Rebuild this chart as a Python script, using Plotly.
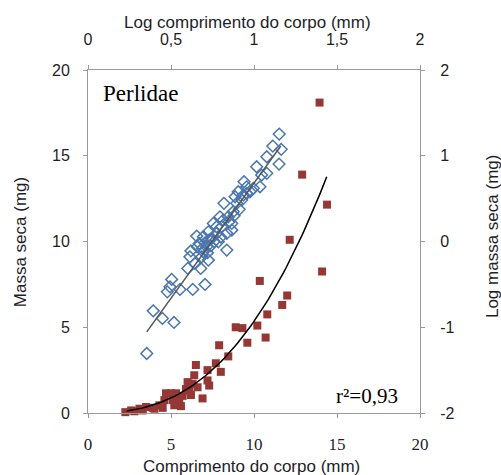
import plotly.graph_objects as go
import numpy as np

# Red squares: body length (mm) vs dry mass (mg)  -> bottom / left axes
length_mm = [2.25, 2.6, 2.8, 3.1, 3.3, 3.5, 3.9, 4.0, 4.3, 4.5,
             4.6, 4.7, 5.0, 5.1, 5.2, 5.3, 5.5, 5.6, 5.7, 5.9,
             6.0, 6.1, 6.2, 6.3, 6.4, 6.5, 6.6, 6.9, 7.2, 7.2,
             7.3, 7.7, 7.9, 8.0, 8.45, 8.9, 9.3, 9.6, 10.2, 10.35,
             10.7, 10.8, 11.7, 12.0, 12.15, 12.9, 13.95, 14.1, 14.4]
mass_mg = [0.05, 0.15, 0.1, 0.25, 0.15, 0.35, 0.3, 0.25, 0.45, 0.3,
           0.75, 1.15, 1.15, 0.75, 0.45, 1.15, 0.75, 0.4, 1.0, 1.4,
           1.8, 1.3, 1.05, 1.7, 2.2, 2.8, 1.5, 0.85, 1.9, 2.5,
           1.6, 2.9, 3.95, 2.4, 3.3, 5.0, 4.95, 4.1, 5.1, 7.7,
           4.4, 5.75, 6.3, 6.85, 10.1, 13.9, 18.1, 8.25, 12.15]

# Blue diamonds: log length vs log mass -> top / right axes
log_length = [0.354, 0.393, 0.448, 0.518, 0.478, 0.504, 0.554, 0.631, 0.705, 0.601,
              0.679, 0.614, 0.620, 0.655, 0.670, 0.715, 0.725, 0.836, 0.695, 0.745,
              0.775, 0.805, 0.819, 0.795, 0.845, 0.866, 0.875, 0.911, 0.905, 0.940,
              0.956, 0.996, 1.036, 1.016, 1.046, 1.077, 1.077, 1.113, 1.152, 1.164,
              1.151, 0.926, 0.886, 0.755, 0.785, 0.705, 0.836, 0.866, 0.936, 0.976,
              0.695, 0.658, 0.645, 0.494, 0.725, 0.815, 0.896, 0.956, 0.775, 0.685,
              0.740, 0.760, 0.800, 0.730, 0.690, 0.850, 0.880, 0.720]
log_mass = [-1.306, -0.809, -0.897, -0.944, -0.587, -0.442, -0.559, -0.559, -0.501, -0.314,
            -0.314, -0.179, -0.109, 0.063, -0.022, -0.062, -0.217, -0.100, -0.120, 0.036,
            0.095, 0.172, 0.445, 0.288, 0.288, 0.211, 0.347, 0.375, 0.580, 0.697,
            0.638, 0.620, 0.638, 0.872, 0.775, 0.795, 0.988, 1.113, 1.253, 1.075,
            0.903, 0.483, 0.522, 0.211, -0.004, -0.015, 0.095, 0.133, 0.541, 0.580,
            0.055, -0.062, -0.256, -0.529, 0.113, 0.250, 0.445, 0.561, 0.172, -0.179,
            -0.050, 0.000, 0.050, 0.020, -0.080, 0.230, 0.300, -0.130]

# Fitted models
lin_intercept, lin_slope = -2.004, 2.685
lin_x_range = [0.354, 1.161]
pow_a, pow_b = 0.01324, 2.606
pow_x_range = [2.33, 14.38]

bottom_ticks = [0, 5, 10, 15, 20]
left_ticks = [0, 5, 10, 15, 20]
top_tickvals = [0, 0.5, 1, 1.5, 2]
top_ticktext = ["0", "0,5", "1", "1,5", "2"]
right_tickvals = [-2, -1, 0, 1, 2]
right_ticktext = ["-2", "-1", "0", "1", "2"]

SANS = "Liberation Sans, Arial, sans-serif"
SERIF = "Liberation Serif, Times New Roman, serif"
TXT = "#1e1e28"
AX = "#9a9a9a"

fig = go.Figure()

fig.add_trace(go.Scatter(
    x=length_mm, y=mass_mg, mode="markers", xaxis="x", yaxis="y",
    marker=dict(symbol="square", size=8, color="#953735"),
    cliponaxis=False, showlegend=False))

fig.add_trace(go.Scatter(
    x=log_length, y=log_mass, mode="markers", xaxis="x2", yaxis="y2",
    marker=dict(symbol="diamond-open", size=9, color="#4a76ad", line=dict(width=1.5, color="#4a76ad")),
    cliponaxis=False, showlegend=False))

lx = np.array(lin_x_range)
fig.add_trace(go.Scatter(
    x=lx, y=lin_intercept + lin_slope * lx, mode="lines", xaxis="x2", yaxis="y2",
    line=dict(color="#555555", width=1.5), showlegend=False))

px_ = np.linspace(pow_x_range[0], pow_x_range[1], 80)
fig.add_trace(go.Scatter(
    x=px_, y=pow_a * px_ ** pow_b, mode="lines", xaxis="x", yaxis="y",
    line=dict(color="#000000", width=1.5), showlegend=False))

common = dict(showline=True, linecolor=AX, linewidth=1, ticks="outside", ticklen=4,
              tickcolor=AX, showgrid=False, zeroline=False, fixedrange=True)

fig.update_layout(
    width=501, height=475, autosize=False,
    margin=dict(l=88, r=81, t=70, b=62, pad=0),
    paper_bgcolor="white", plot_bgcolor="white",
    xaxis=dict(range=[0, 20], tickvals=bottom_ticks, tickfont=dict(family=SERIF, size=17, color=TXT),
               ticklabelstandoff=12, **common),
    xaxis2=dict(range=[0, 2], overlaying="x", side="top", anchor="y", tickvals=top_tickvals,
                ticktext=top_ticktext, tickfont=dict(family=SANS, size=16, color=TXT),
                ticklabelstandoff=14, **common),
    yaxis=dict(range=[0, 20], tickvals=left_ticks, tickfont=dict(family=SANS, size=16, color=TXT),
               ticklabelstandoff=10, **common),
    yaxis2=dict(range=[-2, 2], overlaying="y", side="right", anchor="x", tickvals=right_tickvals,
                ticktext=right_ticktext, tickfont=dict(family=SANS, size=16, color=TXT),
                ticklabelstandoff=12, **common),
    annotations=[
        dict(text="Comprimento do corpo (mm)", xref="paper", yref="paper", x=0.493, y=0,
             yshift=-53, xanchor="center", yanchor="middle", showarrow=False,
             font=dict(family=SANS, size=17, color=TXT)),
        dict(text="Log comprimento do corpo (mm)", xref="paper", yref="paper", x=0.48, y=1,
             yshift=48, xanchor="center", yanchor="middle", showarrow=False,
             font=dict(family=SANS, size=17, color=TXT)),
        dict(text="Massa seca (mg)", xref="paper", yref="paper", x=0, y=0.498,
             xshift=-68, xanchor="center", yanchor="middle", textangle=-90, showarrow=False,
             font=dict(family=SANS, size=17, color=TXT)),
        dict(text="Log massa seca (mg)", xref="paper", yref="paper", x=1, y=0.513,
             xshift=72, xanchor="center", yanchor="middle", textangle=-90, showarrow=False,
             font=dict(family=SANS, size=17, color=TXT)),
        dict(text="Perlidae", xref="paper", yref="paper", x=0, y=1, xshift=13, yshift=-23,
             xanchor="left", yanchor="middle", showarrow=False,
             font=dict(family=SERIF, size=23, color="#000000")),
        dict(text="r²=0,93", xref="paper", yref="paper", x=1, y=0, xshift=-20, yshift=17,
             xanchor="right", yanchor="middle", showarrow=False,
             font=dict(family=SERIF, size=21, color="#000000")),
    ],
)

fig.write_html("out.html")
